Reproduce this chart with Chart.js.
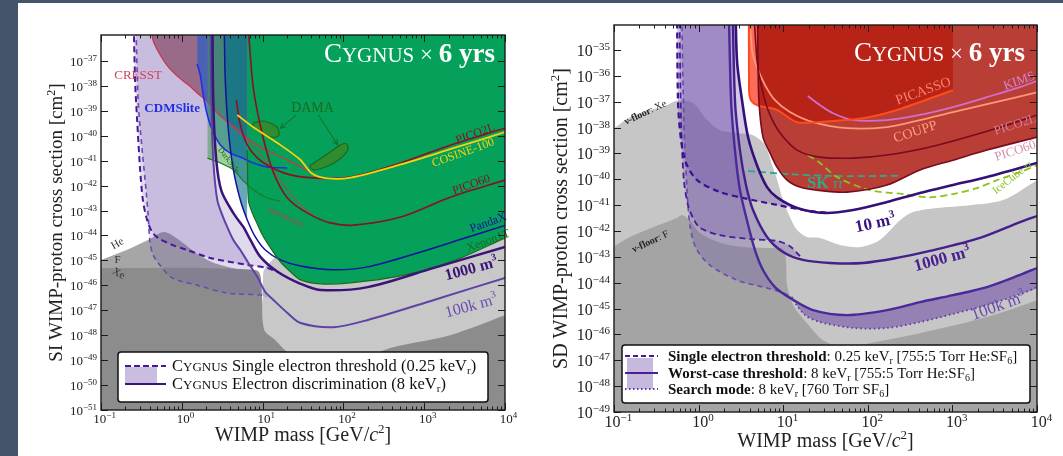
<!DOCTYPE html>
<html>
<head>
<meta charset="utf-8">
<title>CYGNUS SI / SD sensitivity</title>
<script src="https://cdn.jsdelivr.net/npm/chart.js@4.4.1/dist/chart.umd.min.js"></script>
<style>
  html, body { margin: 0; padding: 0; }
  body { width: 1063px; height: 456px; background: #fff; position: relative; overflow: hidden; }
  .edge-left { position: absolute; left: 0; top: 0; width: 18px; height: 456px; background: #44546a; }
  .edge-top { position: absolute; left: 0; top: 0; width: 1063px; height: 3px; background: #44546a; }
  #siChart { position: absolute; left: 0; top: 0; }
  #sdChart { position: absolute; left: 530px; top: 0; }
</style>
</head>
<body>
<div class="edge-left"></div>
<div class="edge-top"></div>
<canvas id="siChart" width="540" height="456"></canvas>
<canvas id="sdChart" width="533" height="456"></canvas>
<script>
// ---------------- SI panel data: [mass GeV, cross section cm^2] ----------------
const siFloorLight = [[10.0, 1e-52], [10.2, 3.2e-46], [13, 1.0e-45], [20, 3.2e-45], [50, 6.3e-45], [200, 6.3e-45], [1000, 1.6e-44], [1e4, 6.3e-44]];
const siFloorHe = [[0.1, 1.05e-45], [0.2, 2.5e-45], [0.4, 7.1e-45], [0.6, 1.38e-44], [0.9, 7.1e-45], [1.5, 2.0e-45], [2.5, 7.9e-46], [5, 4.5e-46], [9, 3.5e-46], [9.4, 3.2e-47], [9.6, 1e-52]];
const siFloorXe = [[0.1, 5.0e-46], [0.4, 5.0e-46], [1.7, 5.0e-46], [8.1, 4.0e-46], [9.3, 2.5e-46], [9.9, 2.5e-47], [10.5, 1.6e-48], [14.4, 6.3e-49], [19, 2.5e-49], [39, 4.0e-50], [93, 2.5e-50], [315, 2.5e-49], [2100, 1.0e-48], [1e4, 6.3e-48]];

const siSE1000 = [[0.249, 1e-34], [0.264, 1.74e-38], [0.28, 4.3e-40], [0.305, 4.3e-42], [0.33, 2.6e-43], [0.372, 4.2e-44], [0.43, 1.38e-44], [0.51, 7.9e-45], [0.76, 4.2e-45], [1.17, 2.6e-45], [2.25, 1.26e-45], [6.46, 6.6e-46], [11.5, 5.0e-46], [15, 3.5e-46]];
const siED1000 = [[2.38, 1e-34], [2.45, 2.7e-39], [2.67, 1.07e-41], [3.1, 6e-43], [4.35, 7.9e-44], [5.77, 2.2e-44], [7.07, 6.6e-45], [9.4, 1.38e-45], [15.3, 3.5e-46], [29.5, 1.15e-46], [52, 6.5e-47], [200, 8.5e-47], [1320, 5.0e-46], [1e4, 3.5e-45]];
const siSE100k = [[0.264, 1e-34], [0.288, 2.7e-39], [0.323, 2.7e-41], [0.361, 6.6e-43], [0.383, 6.6e-44], [0.405, 5.0e-45], [0.442, 1.66e-45], [0.51, 7.9e-46], [0.76, 2.0e-46], [1.55, 1.02e-46], [3.65, 4.9e-47], [9.4, 4.1e-47], [11.1, 3.4e-47]];
const siED100k = [[2.25, 1e-34], [2.32, 2.7e-39], [2.45, 1.07e-41], [2.75, 2.6e-43], [3.17, 6.6e-44], [3.65, 2.2e-44], [4.35, 6.6e-45], [5.3, 2.6e-45], [6.67, 7.9e-46], [8.6, 2.2e-46], [10.8, 5.4e-47], [13.6, 2.6e-47], [20.3, 7.8e-48], [29.5, 3.1e-48], [76, 2.1e-48], [200, 4.1e-48], [1320, 2.6e-47], [1e4, 2.0e-46]];

const siCRESST = [[0.42, 3e-36], [0.44, 6.9e-37], [0.54, 1.74e-37], [0.68, 5.8e-38], [0.9, 2.3e-38], [1.2, 1.1e-38], [1.55, 5.2e-39], [1.95, 2.75e-39], [3.0, 6.3e-40], [5.3, 1.29e-40], [9.4, 3.5e-41], [20.3, 1.07e-41], [39, 3.5e-42]];
const siCDMSlite = [[1.55, 7.6e-38], [1.69, 2.75e-38], [1.84, 4.4e-39], [2.07, 6.8e-40], [2.38, 1.7e-40], [3.0, 4.3e-41], [3.98, 2.0e-41], [5.3, 1.4e-41], [7.7, 8.1e-42], [11.5, 5.6e-42], [20.3, 5.1e-42]];
const siDarkSide = [[2.07, 1.29e-41], [2.38, 1.07e-41], [3.0, 8.1e-42], [4.35, 4.3e-42], [5.78, 1.55e-42], [7.7, 6.8e-43], [11.5, 3.2e-43], [16.6, 2.4e-43]];
const siEDELWEISS = [[4.35, 2.7e-40], [6.47, 6.8e-41], [11.5, 8.1e-42], [20.3, 6.8e-43], [29.5, 1.66e-43], [42.6, 6.6e-44]];
const siPICO60 = [[6.6, 3e-36], [7.7, 7.6e-39], [10.2, 7.9e-41], [13.6, 3.4e-42], [20.3, 3.2e-43], [36, 7.9e-44], [69, 3.2e-44], [134, 2.6e-44], [513, 5.5e-44], [2140, 3.5e-43], [1e4, 1.66e-42]];
const siPICO2L = [[4.73, 2.7e-39], [5.31, 2.7e-40], [6.47, 4.3e-41], [8.6, 1.29e-41], [12.5, 5.6e-42], [22.1, 2.7e-42], [48, 2.0e-42], [123, 2.2e-42], [513, 8.1e-42], [2140, 4.3e-41], [1e4, 2.0e-40]];
const siCOSINE = [[4.86, 6.8e-40], [7.7, 2.2e-40], [15.3, 5.1e-41], [29.5, 1.07e-41], [40, 3.2e-42], [60, 2.0e-42], [123, 2.1e-42], [513, 7.1e-42], [2140, 2.95e-41], [1e4, 1.41e-40]];
const siPandaX = [[3.35, 3e-36], [3.45, 1.74e-38], [3.77, 1.7e-40], [4.35, 4.3e-42], [5.31, 2.6e-43], [6.47, 4.2e-44], [8.13, 8.7e-45], [10.8, 2.6e-45], [16.6, 1.05e-45], [29.5, 6.0e-46], [75, 4.2e-46], [200, 5.5e-46], [830, 2.0e-45], [3500, 8.7e-45], [1e4, 2.5e-44]];
const siXenon1T = [[6.47, 2.7e-41], [6.67, 2.6e-43], [7.47, 7.9e-44], [8.37, 3.5e-44], [9.95, 1.05e-44], [12.5, 3.2e-45], [16.6, 8.7e-46], [22.1, 3.5e-46], [29.5, 1.66e-46], [52, 1.15e-46], [123, 1.26e-46], [513, 2.4e-46], [2140, 8.7e-46], [1e4, 7.9e-45]];
const siDAMA1 = [[7.7, 3.24e-40], [9.95, 3.9e-40], [13.2, 2.95e-40], [15.3, 2.04e-40], [15.7, 9.8e-41], [12.5, 8.9e-41], [9.4, 1.41e-40], [7.7, 2.24e-40]];
const siDAMA2 = [[38, 6.2e-42], [49, 1.07e-41], [69, 2.24e-41], [92, 4.3e-41], [110, 4.7e-41], [113, 2.7e-41], [87, 1.07e-41], [60, 5.6e-42], [42.6, 4.3e-42]];
const siDamaArrowA = [[26, 6.8e-40], [16.6, 2.0e-40]];
const siDamaArrowB = [[49, 6.8e-40], [85, 4.3e-41]];

// ---------------- SD panel data ----------------
const sdFloorXe = [[0.1, 9.5e-39], [0.155, 2.5e-38], [0.267, 4.8e-38], [0.38, 6.2e-38], [0.5, 9.8e-38], [0.6, 1.15e-37], [0.86, 8.9e-38], [1.26, 1.95e-38], [1.79, 7.9e-39], [2.84, 6.2e-39], [4.4, 5.1e-39], [6.1, 2.1e-39], [7.4, 3.5e-40], [8.5, 9.3e-41], [9.95, 1.58e-41], [12, 3.5e-42], [14.6, 1.1e-42], [19.1, 5.9e-43], [27.2, 5.4e-43], [47, 2.9e-43], [81, 2.4e-43], [139, 4.5e-43], [240, 2.6e-42], [342, 5.4e-42], [658, 7.8e-42], [1610, 1.0e-41], [3960, 1.58e-41], [1e4, 9.3e-41]];
const sdFloorF = [[0.1, 2.6e-43], [0.155, 5.9e-43], [0.289, 1.41e-42], [0.556, 3.2e-42], [0.637, 4.2e-42], [0.79, 2.6e-42], [1.04, 8.3e-43], [1.79, 3.5e-43], [3.35, 2.4e-43], [6.44, 2.2e-43], [9.96, 2.0e-43], [10.8, 6.3e-44], [11.1, 8.1e-45], [13.1, 1.38e-45], [15.8, 5.6e-46], [20.8, 1.95e-46], [29.5, 6.0e-47], [54, 2.95e-47], [81, 3.9e-47], [414, 1.12e-46], [2570, 4.7e-46], [1e4, 2.1e-45]];

const sdPICASSO = [[3.94, 1e-32], [3.94, 6.9e-37], [4.06, 1.38e-37], [4.9, 7.4e-38], [8.45, 4.8e-38], [14.6, 1.62e-38], [35.7, 1.78e-38], [88, 2.3e-38], [221, 4.8e-38], [1016, 2.8e-37]];
const sdPICO60 = [[4.9, 1e-32], [5.04, 4.1e-36], [5.18, 8.9e-38], [5.77, 4.3e-39], [6.98, 1.05e-39], [8.45, 2.95e-40], [11.1, 9.3e-41], [15.8, 5.0e-41], [25.1, 3.8e-41], [56.8, 3.2e-41], [169, 6.0e-41], [414, 2.3e-40], [1016, 5.5e-40], [2560, 1.35e-39], [1e4, 4.3e-39]];
const sdCOUPP = [[3.73, 1e-32], [4.28, 1.0e-35], [4.9, 2.2e-36], [6.1, 4.4e-37], [8.0, 1.15e-37], [12.0, 4.0e-38], [22.5, 1.62e-38], [57, 9.5e-39], [169, 1.05e-38], [414, 1.95e-38], [1016, 4.0e-38], [2560, 8.1e-38], [1e4, 2.3e-37]];
const sdPICO2L = [[4.28, 1e-32], [4.9, 4.1e-36], [5.77, 2.2e-37], [6.98, 3.1e-38], [9.2, 6.2e-39], [14.6, 1.35e-39], [27.2, 7.2e-40], [67, 6.6e-40], [169, 8.7e-40], [543, 1.78e-39], [3370, 9.5e-39], [1e4, 3.1e-38]];
const sdKIMS = [[19.6, 1.66e-37], [27.2, 7.4e-38], [38.8, 3.6e-38], [67, 1.95e-38], [169, 1.95e-38], [414, 3.1e-38], [1016, 6.2e-38], [2560, 1.51e-37], [6300, 3.7e-37], [1e4, 6.3e-37]];
const sdSK = [[3.84, 2.1e-40], [12, 1.58e-40], [35.7, 1.35e-40], [240, 1.35e-40]];
const sdIceCube = [[19.6, 8.7e-40], [27.2, 4.3e-40], [43, 1.23e-40], [106, 3.8e-41], [260, 2.7e-41], [543, 2.0e-41], [1016, 2.7e-41], [1950, 4.6e-41], [3370, 9.3e-41], [6300, 1.9e-40], [1e4, 3.5e-40]];

const sdED10 = [[2.69, 1e-32], [2.84, 4.1e-36], [3.26, 1.15e-37], [3.84, 4.3e-39], [4.9, 3.5e-40], [6.44, 5.0e-41], [8.45, 2.0e-41], [14.6, 7.8e-42], [31.2, 5.0e-42], [67, 6.5e-42], [169, 1.32e-41], [414, 2.95e-41], [1016, 6.0e-41], [2560, 1.23e-40], [1e4, 4.3e-40]];
const sdED1000 = [[2.48, 1e-32], [2.69, 1.15e-37], [3.08, 1.35e-39], [3.63, 6.0e-41], [4.4, 6.5e-42], [6.44, 5.9e-43], [9.95, 1.55e-43], [17.1, 7.6e-44], [35.7, 5.8e-44], [88, 5.8e-44], [221, 9.1e-44], [543, 1.7e-43], [2120, 5.4e-43], [6300, 2.2e-42], [1e4, 3.8e-42]];
const sdED100k = [[2.23, 1e-32], [2.42, 1.15e-37], [2.69, 1.35e-39], [3.08, 3.9e-41], [3.73, 2.6e-42], [4.64, 1.82e-43], [5.77, 3.1e-44], [8.0, 6.8e-45], [12.0, 2.6e-45], [22.5, 8.7e-46], [57, 5.6e-46], [169, 8.7e-46], [414, 1.78e-45], [1016, 3.3e-45], [2560, 6.8e-45], [6300, 2.0e-44], [1e4, 3.7e-44]];
const sdSearch = [[13.1, 2.1e-45], [18.1, 5.6e-46], [27.2, 3.0e-46], [67, 1.78e-46], [169, 1.78e-46], [414, 3.0e-46], [1016, 6.2e-46], [2560, 1.38e-45], [6300, 3.6e-45], [1e4, 6.8e-45]];
const sdSE10 = [[0.556, 1e-32], [0.57, 1.15e-37], [0.62, 3.3e-39], [0.71, 4.3e-40], [0.96, 9.3e-41], [1.79, 3.2e-41], [3.35, 1.9e-41], [8.45, 1.02e-41], [20.8, 5.9e-42], [35.7, 5.0e-42]];
const sdSE1000 = [[0.586, 1e-32], [0.62, 1.95e-38], [0.67, 9.3e-41], [0.75, 1.0e-41], [0.86, 3.2e-42], [1.04, 1.32e-42], [1.79, 6.9e-43], [4.06, 4.9e-43], [8.45, 4.1e-43], [12, 2.6e-43], [15.8, 1.07e-43]];
const sdSE100k = [[0.62, 1e-32], [0.67, 1.95e-38], [0.73, 3.9e-41], [0.79, 1.7e-42], [0.93, 2.2e-43], [1.36, 4.8e-44], [2.84, 1.26e-44], [6.44, 6.2e-45], [9.95, 4.0e-45], [13.1, 2.6e-45]];

// ---------------- helpers ----------------
const SERIF = '"Liberation Serif", "DejaVu Serif", serif';
const xy = arr => arr.map(([x, y]) => ({x, y}));
const upTo = (arr, m) => arr.filter(p => p[0] <= m);
const loop = (a, b) => [...a, ...b.slice().reverse()];
const closed = arr => [...arr, arr[0]];

function area(data, color, fill) {
    return {data: xy(data), backgroundColor: color, borderColor: 'transparent', borderWidth: 0, fill, pointRadius: 0, tension: 0.3};
}
function curve(data, color, width, dash) {
    return {data: xy(data), borderColor: color, borderWidth: width, borderDash: dash || [], fill: false, pointRadius: 0, tension: 0.3, borderJoinStyle: 'round'};
}
function blob(data) {
    return {data: xy(closed(data)), backgroundColor: '#2f8c2f', borderColor: '#1b6a1b', borderWidth: 1.2, fill: 'shape', pointRadius: 0, tension: 0.35};
}

const r = (t, size, o) => Object.assign({t, size}, o || {});
const fontOf = run => (run.italic ? 'italic ' : '') + (run.bold ? 'bold ' : '') + run.size + 'px ' + SERIF;
const smallCaps = (word, size, o) => [r(word[0], size, o), r(word.slice(1).toUpperCase(), Math.round(size * 0.78), o)];

function drawRuns(ctx, runs, x, y, align) {
    let w = 0;
    const widths = runs.map(run => { ctx.font = fontOf(run); const m = ctx.measureText(run.t).width; w += m; return m; });
    let cx = align === 'center' ? x - w / 2 : align === 'right' ? x - w : x;
    runs.forEach((run, i) => {
        ctx.font = fontOf(run);
        ctx.fillText(run.t, cx, y + (run.dy || 0));
        cx += widths[i];
    });
    return w;
}

function drawLegend(ctx, L) {
    ctx.save();
    const [x0, y0, x1, y1] = L.box;
    ctx.beginPath();
    ctx.roundRect(x0, y0, x1 - x0, y1 - y0, 3);
    ctx.fillStyle = '#fff';
    ctx.fill();
    ctx.lineWidth = 1.5;
    ctx.strokeStyle = '#111';
    ctx.stroke();
    L.rows.forEach(row => {
        if (row.patch) {
            ctx.fillStyle = L.patchColor;
            ctx.fillRect(...row.patch);
        }
        ctx.strokeStyle = row.color;
        ctx.lineWidth = row.width;
        ctx.setLineDash(row.dash);
        ctx.beginPath();
        ctx.moveTo(L.sample[0], row.y);
        ctx.lineTo(L.sample[1], row.y);
        ctx.stroke();
        ctx.setLineDash([]);
        ctx.fillStyle = '#111';
        drawRuns(ctx, row.runs, L.text, row.y + 5, 'left');
    });
    ctx.restore();
}

function decorate(chart, spec) {
    const {ctx, chartArea: a} = chart;
    const sx = chart.scales.x, sy = chart.scales.y;
    const X = v => sx.getPixelForValue(v), Y = v => sy.getPixelForValue(v);
    ctx.save();
    ctx.textBaseline = 'alphabetic';

    // arrow heads
    (spec.arrows || []).forEach(arr => {
        const p = arr[arr.length - 2], q = arr[arr.length - 1];
        const x0 = X(p[0]), y0 = Y(p[1]), x1 = X(q[0]), y1 = Y(q[1]);
        const ang = Math.atan2(y1 - y0, x1 - x0);
        ctx.strokeStyle = '#1b6a1b';
        ctx.lineWidth = 1;
        ctx.beginPath();
        [-0.45, 0.45].forEach(d => {
            ctx.moveTo(x1, y1);
            ctx.lineTo(x1 - 6 * Math.cos(ang + d), y1 - 6 * Math.sin(ang + d));
        });
        ctx.stroke();
    });

    // curve labels
    spec.labels.forEach(l => {
        ctx.save();
        ctx.translate(X(l.at[0]), Y(l.at[1]));
        ctx.rotate(l.rot * Math.PI / 180);
        ctx.fillStyle = l.color;
        const h = Math.max(...l.runs.map(run => run.size));
        drawRuns(ctx, l.runs, 0, h * 0.35, 'center');
        ctx.restore();
    });

    // title
    ctx.fillStyle = '#fff';
    drawRuns(ctx, spec.title, a.right - spec.titlePos[0], a.top + spec.titlePos[1], 'right');

    // ticks + frame
    ctx.strokeStyle = '#1a1a1a';
    ctx.lineWidth = 1;
    ctx.beginPath();
    for (let e = -1; e <= 4; e++) {
        for (let k = 1; k <= 9; k++) {
            const v = k * Math.pow(10, e);
            if (v > 1.0001e4) break;
            const px = Math.round(X(v)) + 0.5, len = k === 1 ? 7 : 3.5;
            ctx.moveTo(px, a.bottom); ctx.lineTo(px, a.bottom - len);
            ctx.moveTo(px, a.top); ctx.lineTo(px, a.top + len);
        }
    }
    const eLo = Math.ceil(Math.log10(sy.min) - 1e-9), eHi = Math.floor(Math.log10(sy.max) + 1e-9);
    const yDecades = [];
    for (let e = eLo; e <= eHi; e++) {
        const py = Math.round(Y(Math.pow(10, e))) + 0.5;
        if (py < a.top + 3) continue;
        yDecades.push([e, py]);
        ctx.moveTo(a.left, py); ctx.lineTo(a.left + 7, py);
        ctx.moveTo(a.right, py); ctx.lineTo(a.right - 7, py);
    }
    ctx.stroke();
    ctx.lineWidth = 1.4;
    ctx.strokeRect(a.left, a.top, a.right - a.left, a.bottom - a.top);

    // tick labels
    const T = spec.tick;
    ctx.fillStyle = '#222';
    const expText = e => (e < 0 ? '\u2212' + (-e) : String(e));
    yDecades.forEach(([e, py]) => {
        drawRuns(ctx, [r('10', T.size), r(expText(e), T.exp, {dy: -T.raise})], a.left - 4, py + T.size * 0.35, 'right');
    });
    for (let e = -1; e <= 4; e++) {
        const px = X(Math.pow(10, e));
        drawRuns(ctx, [r('10', T.size), r(expText(e), T.exp, {dy: -T.raise})], px + T.exp * 0.4, a.bottom + T.xBase, 'center');
    }

    // axis titles
    ctx.fillStyle = '#222';
    ctx.save();
    ctx.translate(spec.yTitleX, (a.top + a.bottom) / 2);
    ctx.rotate(-Math.PI / 2);
    drawRuns(ctx, spec.yTitle, 0, spec.yTitle[0].size * 0.35, 'center');
    ctx.restore();
    drawRuns(ctx, spec.xTitle, (a.left + a.right) / 2, spec.xTitleY, 'center');

    drawLegend(ctx, spec.legend);
    ctx.restore();
}

function makeChart(id, spec) {
    const n = spec.datasets.length;
    return new Chart(document.getElementById(id), {
        type: 'line',
        data: {datasets: spec.datasets.map((d, i) => Object.assign({order: n - i}, d))},
        options: {
            responsive: false,
            animation: false,
            events: [],
            layout: {padding: spec.padding},
            scales: {
                x: {type: 'logarithmic', min: 0.1, max: 1e4, display: false},
                y: {type: 'logarithmic', min: spec.yMin, max: spec.yMax, display: false}
            },
            plugins: {legend: {display: false}, tooltip: {enabled: false}}
        },
        plugins: [{id: 'deco', afterDatasetsDraw: chart => decorate(chart, spec)}]
    });
}

const xTitle = [r('WIMP mass [GeV/', 20), r('c', 20, {italic: true}), r('2', 13, {dy: -8}), r(']', 20)];
const cygTitle = [...smallCaps('Cygnus', 27), r(' \u00d7 ', 23), r('6 yrs', 27, {bold: true})];

// ---------------- SI chart ----------------
const LAV_SI = 'rgba(110, 80, 170, 0.21)';
makeChart('siChart', {
    padding: {left: 101, top: 35, right: 35, bottom: 46},
    yMin: 1e-51, yMax: 1.1e-36,
    datasets: [
        area(siFloorLight, '#c8c8c8', 'start'),
        area(siFloorHe, '#a6a6a6', 'start'),
        area(siFloorXe, '#8c8c8c', 'start'),
        area(loop(siSE1000, upTo(siED1000, 15)), LAV_SI, 'shape'),
        area(loop(siSE100k, upTo(siED100k, 11.1)), LAV_SI, 'shape'),
        area(siCRESST, 'rgba(123, 51, 79, 0.6)', 'end'),
        area(siCDMSlite, 'rgba(20, 90, 210, 0.6)', 'end'),
        area(siDarkSide, 'rgba(57, 159, 57, 0.5)', 'end'),
        area(upTo(siPandaX, 6.47), 'rgba(0, 110, 140, 0.6)', 'end'),
        area(siXenon1T, '#05a05a', 'end'),
        blob(siDAMA1),
        blob(siDAMA2),
        curve(siEDELWEISS, '#c8374f', 1),
        curve(siCRESST, '#c8374f', 1.3),
        curve(siCDMSlite, '#1f2fe6', 1.6),
        curve(siDarkSide, '#1e7a1e', 1.2),
        curve(siPICO60, '#8b1024', 1.6),
        curve(siPICO2L, '#8b1024', 1.6),
        curve(siCOSINE, '#f7d30d', 1.8),
        curve(siPandaX, '#12129c', 1.5),
        curve(siXenon1T, '#1d6b1d', 1.2),
        Object.assign(curve(siDamaArrowA, '#1b6a1b', 1), {tension: 0}),
        Object.assign(curve(siDamaArrowB, '#1b6a1b', 1), {tension: 0}),
        curve(siSE100k, '#6a4caf', 1.6, [5, 4]),
        curve(siSE1000, '#47169a', 2, [6, 4]),
        curve(siED100k, '#5e42a6', 2),
        curve(siED1000, '#3a1478', 2.5)
    ],
    arrows: [siDamaArrowA, siDamaArrowB],
    labels: [
        {runs: [r('CRESST', 13)], at: [0.288, 2.75e-38], rot: 0, color: '#d0405f'},
        {runs: [r('CDMSlite', 13, {bold: true})], at: [0.76, 1.41e-39], rot: 0, color: '#1f2fe6'},
        {runs: [r('DAMA', 14)], at: [41.5, 1.41e-39], rot: 0, color: '#1b6b1b'},
        {runs: [r('DarkSide', 8)], at: [3.87, 1.07e-41], rot: 52, color: '#1b6b1b'},
        {runs: [r('EDELWEISS', 7)], at: [19.2, 5.5e-44], rot: 25, color: '#c8374f'},
        {runs: [r('PICO2L', 12)], at: [4250, 1.29e-40], rot: -20, color: '#8b1024'},
        {runs: [r('COSINE-100', 12)], at: [3010, 2.24e-41], rot: -20, color: '#f7d30d'},
        {runs: [r('PICO60', 12)], at: [3790, 1.17e-42], rot: -20, color: '#8b1024'},
        {runs: [r('PandaX', 12)], at: [6150, 3.5e-44], rot: -20, color: '#12129c'},
        {runs: [r('Xenon1T', 12)], at: [6150, 6.6e-45], rot: -20, color: '#1d6b1d'},
        {runs: [r('1000 m', 16, {bold: true}), r('3', 10, {bold: true, dy: -7})], at: [3790, 5.0e-46], rot: -15, color: '#3a1478'},
        {runs: [r('100k m', 16), r('3', 10, {dy: -7})], at: [3790, 1.62e-47], rot: -15, color: '#6a4caf'},
        {runs: [r('He', 11)], at: [0.158, 5.0e-45], rot: -30, color: '#333'},
        {runs: [r('F', 11)], at: [0.16, 1.15e-45], rot: 0, color: '#333'},
        {runs: [r('Xe', 11)], at: [0.167, 3.2e-46], rot: 30, color: '#333'}
    ],
    title: cygTitle, titlePos: [10, 27],
    tick: {size: 13, exp: 9, raise: 5, xBase: 13},
    yTitleX: 55, yTitle: [r('SI WIMP-proton cross section [cm', 19), r('2', 12, {dy: -7}), r(']', 19)],
    xTitle, xTitleY: 441,
    legend: {
        box: [118, 352, 488, 402], sample: [125, 166], text: 172, patchColor: 'rgba(110, 80, 170, 0.37)',
        rows: [
            {y: 366, color: '#47169a', width: 2, dash: [6, 3], runs: [...smallCaps('Cygnus', 16.5), r(' Single electron threshold (0.25 keV', 16.5), r('r', 11, {dy: 3}), r(')', 16.5)]},
            {y: 384, color: '#3a1478', width: 2, dash: [], patch: [125, 367, 32, 17], runs: [...smallCaps('Cygnus', 16.5), r(' Electron discrimination (8 keV', 16.5), r('r', 11, {dy: 3}), r(')', 16.5)]}
        ]
    }
});

// ---------------- SD chart ----------------
const LAV_SD = 'rgba(110, 80, 170, 0.3)';
makeChart('sdChart', {
    padding: {left: 84, top: 25, right: 26, bottom: 44},
    yMin: 1e-49, yMax: 9.3e-35,
    datasets: [
        area(sdFloorXe, '#c6c6c6', 'start'),
        area(sdFloorF, '#a4a4a4', 'start'),
        area(loop(sdSE10, upTo(sdED10, 35.7)), LAV_SD, 'shape'),
        area(loop(sdSE1000, upTo(sdED1000, 15.8)), LAV_SD, 'shape'),
        area(loop(sdSE100k, upTo(sdED100k, 13.1)), LAV_SD, 'shape'),
        area(sdPICASSO, 'rgba(250, 60, 30, 0.75)', 'end'),
        area(sdPICO60, 'rgba(170, 20, 10, 0.82)', 'end'),
        area(loop(sdSearch, sdED100k.filter(p => p[0] >= 12)), 'rgba(100, 60, 160, 0.5)', 'shape'),
        curve(sdSK, '#2fa98d', 1.8, [7, 4]),
        curve(sdIceCube, '#8dc21f', 1.8, [7, 4]),
        curve(sdKIMS, '#d070cc', 1.8),
        curve(sdCOUPP, '#ff9878', 1.8),
        curve(sdPICASSO, '#ff4a1c', 2),
        curve(sdPICO2L, '#7a0a20', 1.6),
        curve(sdPICO60, '#7a0a20', 1.6),
        curve(sdSE100k, '#6a4caf', 1.6, [5, 4]),
        curve(sdSE1000, '#4a1a9a', 1.8, [6, 4]),
        curve(sdSE10, '#3d0f94', 2.2, [6, 4]),
        curve(sdSearch, '#5a3aaa', 1.8, [1.5, 3]),
        curve(sdED100k, '#4a2a9a', 2.4),
        curve(sdED1000, '#45208c', 2.4),
        curve(sdED10, '#35107a', 2.6)
    ],
    labels: [
        {runs: [r('PICASSO', 14)], at: [449, 2.8e-37], rot: -20, color: '#ff806a'},
        {runs: [r('COUPP', 14)], at: [361, 7.4e-39], rot: -18, color: '#ff9c82'},
        {runs: [r('KIMS', 13)], at: [6120, 6.9e-37], rot: -20, color: '#d683d6'},
        {runs: [r('PICO2L', 13)], at: [5500, 1.38e-38], rot: -18, color: '#d77d98'},
        {runs: [r('PICO60', 13)], at: [5500, 1.35e-39], rot: -18, color: '#d98fae'},
        {runs: [r('SK ', 16, {bold: true}), r('\u03c4\u03c4', 14, {italic: true})], at: [31.2, 7.8e-41], rot: 0, color: '#2fa98d'},
        {runs: [r('IceCube ', 11), r('\u03c4\u03c4', 11, {italic: true})], at: [5060, 1.23e-40], rot: -38, color: '#8dc21f'},
        {runs: [r('\u03bd-floor', 10, {bold: true}), r(': Xe', 10)], at: [0.232, 4.0e-38], rot: -25, color: '#222'},
        {runs: [r('\u03bd-floor', 10, {bold: true}), r(': F', 10)], at: [0.267, 4.1e-43], rot: -25, color: '#222'},
        {runs: [r('10 m', 17, {bold: true}), r('3', 11, {bold: true, dy: -7})], at: [122, 2.2e-42], rot: -12, color: '#3a1480'},
        {runs: [r('1000 m', 17, {bold: true}), r('3', 11, {bold: true, dy: -7})], at: [753, 9.1e-44], rot: -15, color: '#4a2090'},
        {runs: [r('100k m', 17), r('3', 11, {dy: -7})], at: [3460, 1.38e-45], rot: -20, color: '#6a4caf'}
    ],
    title: cygTitle, titlePos: [12, 36],
    tick: {size: 16, exp: 11, raise: 6, xBase: 15},
    yTitleX: 30, yTitle: [r('SD WIMP-proton cross section [cm', 20), r('2', 13, {dy: -8}), r(']', 20)],
    xTitle, xTitleY: 447,
    legend: {
        box: [92, 345, 500, 403], sample: [95, 128], text: 138, patchColor: 'rgba(110, 80, 170, 0.4)',
        rows: [
            {y: 356, color: '#4a1a9a', width: 2, dash: [5, 3], runs: [r('Single electron threshold', 15, {bold: true}), r(': 0.25 keV', 15), r('r', 10, {dy: 3}), r(' [755:5 Torr He:SF', 15), r('6', 10, {dy: 3}), r(']', 15)]},
            {y: 373, color: '#4a2090', width: 2, dash: [], patch: [97, 358, 26, 31], runs: [r('Worst-case threshold', 15, {bold: true}), r(': 8 keV', 15), r('r', 10, {dy: 3}), r(' [755:5 Torr He:SF', 15), r('6', 10, {dy: 3}), r(']', 15)]},
            {y: 389, color: '#5a3aaa', width: 2, dash: [1.5, 2.5], runs: [r('Search mode', 15, {bold: true}), r(': 8 keV', 15), r('r', 10, {dy: 3}), r(' [760 Torr SF', 15), r('6', 10, {dy: 3}), r(']', 15)]}
        ]
    }
});
</script>
</body>
</html>
